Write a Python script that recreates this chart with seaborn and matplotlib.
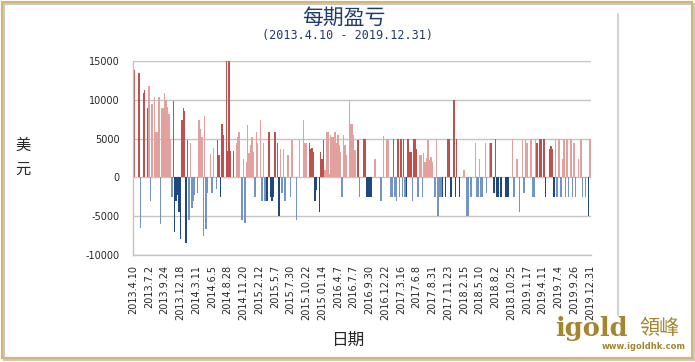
import pandas as pd
import seaborn as sns
import matplotlib.pyplot as plt
from matplotlib.patches import Rectangle
from matplotlib.lines import Line2D

# tick labels, one every 11 trade slots
tick_dates = ['2013.4.10', '2013.7.2', '2013.9.24', '2013.12.18', '2014.3.11', '2014.6.5',
              '2014.8.28', '2014.11.20', '2015.2.12', '2015.5.7', '2015.7.30', '2015.10.22',
              '2015.01.14', '2016.4.7', '2016.7.7', '2016.9.30', '2016.12.22', '2017.3.16',
              '2017.6.8', '2017.8.31', '2017.11.23', '2018.2.15', '2018.5.10', '2018.8.2',
              '2018.10.25', '2019.1.17', '2019.4.11', '2019.7.4', '2019.9.26', '2019.12.31']

# profit / loss per slot (USD), 0 = no trade
pnl = [7400, 13900, 0, 0, 13400, -6500, 0, 10900, 11300, 0,
       8900, 11800, -3000, 9400, 0, 10400, 5900, 5900, 10400, -6000,
       8900, 8900, 10900, 10000, 9100, 8200, 4800, -2500, 9900, -7000,
       -3000, -2300, -4500, -8000, 7400, 8900, 8500, -8500, 4800,
       -5500, 4400, -4000, -3100, -2300, 0, -2000, 7400, 6300, 5200,
       -7500, 7900, -6600, -2000, 0, 3000, -2000, 3800, 0, -1500,
       4800, 2900, -2500, 6900, 5500, 0, 15000, 3400, 15000, 3400,
       0, 3400, 0, 4400, 5200, 5900, 0, -5500, 2400, -5900,
       2000, 6800, 3100, 4200, 5200, 3300, -2500, 5900, 4400,
       0, 7400, -3000, 4400, -3000, -3000, -3000, 5900, -2500, -3000,
       -2500, 5900, 0, 4400, -5000, 3700, -2000, 3700, -3000, 0,
       2900, 0, -2500, 4800, 0, 0, -5500, 0, 4800, 0,
       0, 7400, 4400, 4400, 0, 4400, 3700, 3800, 3300, -3000,
       -1600, 0, -4400, 3300, 2400, 4800, 900, 5900, 5900,
       500, 5500, 5200, 5200, 5900, 4400, 5500, 4200, 3300, -2500,
       5500, 4200, 2900, 0, 10000, 6900, 6900, 5500, 3500, 0,
       4800, -2500, 0, 0, 5000, 5000, -2500, -2500, -2500, -2500,
       0, 0, 2400, 0, 0, 0, -3000, 0, 5300, 0,
       5000, 5000, 0, -2500, -2500, 5000, -2500, -3000, 5000, -2500,
       5000, -2500, 5000, -2500, -2500, 5000, 3300, 3300, -3000,
       5000, 5000, 3700, -2500, 2900, 2900, -2500, 3100, 2000, 2500,
       4800, 2200, 2600, 2000, 0, -2500, 5000, -5000, -2500, -2500,
       -2500, 0, -2500, 0, 5000, 5000, -2500, 0, 10000, -2500,
       5000, 0, -2500, 0, 0, 1000, 0, -5000, -5000, 0,
       -2500, 0, 0, 4400, -2500, -2500, 2400, -2500, -2500,
       0, 4400, -2000, 0, 4400, 4400, 0, -2000, 5000, -2500,
       -2500, 0, -2500, 0, 0, -2500, -2500, -2500, 0, 0,
       5000, -2500, 0, 2400, 0, -4400, 0, 5000, -2000, 5000,
       4400, 0, 0, 5000, -2500, -2500, 5000, 4400, 0, 5000,
       5000, 0, 5000, -2500, 0, 0, 3700, 4000, 3700,
       -2500, 5000, -2500, 5000, 5000, -2500, 2400, 5000, -2500, 5000,
       -2500, 0, 5000, -2500, 4400, -2500, 0, 2400, 0, 5000,
       -2500, 0, -2500, 0, -5000, 5000]

# bar shade per slot: R/r = dark/light gain, B/b = dark/light loss
kind = ("RR..Rb.RR." "Rrbr.rrrrb" "rrrrrrrbRB" "BBBBRRRBR"
        "brbbb.brrr" "brbb.rbr.b" "RRBRR.RRRR" ".R.rrr.brb" "rrrrrrbrr"
        ".rbrbBBRBB" "BR.RBrbrb." "r.br..b.r." ".rrr.RRRRB" "B.BRRRrrr"
        "rrrrrrrrrb" "rrr.rrrrr." "Rb..RRBBBB" "..r...b.r." "rr.bbRbbRb"
        "RbRbBRRRb" "RRRbrrbrrr" "rrrr.brbbb" "B.B.RRB.RB" "R.B..r.bb."
        "b..rbbrbb" ".rb.rR.BRB" "B.B..BBB.." "rb.r.b.rbr" "r..rbbrR.R"
        "R.RB..RRR" "Brbrrbrrbr" "b.rbrb.r.r" "b.b.Br")

assert len(pnl) == len(kind)

df = pd.DataFrame({'slot': range(len(pnl)), 'pnl': pnl, 'kind': list(kind)})
palette = {'R': '#C0504D', 'r': '#E2A09F', 'B': '#1F497D', 'b': '#7395C3', '.': '#FFFFFF'}

sns.set_style('white')
plt.rcParams['font.family'] = ['Noto Sans CJK SC', 'DejaVu Sans']

navy = '#1F3A6E'
gold = '#A5852F'

fig = plt.figure(figsize=(6.95, 3.62), dpi=100)
ax = fig.add_axes([132.5 / 695, 1 - 255 / 362, 458 / 695, 194 / 362])

sns.barplot(data=df, x='slot', y='pnl', hue='kind', palette=palette, dodge=False,
            width=1.0, saturation=1, linewidth=0, errorbar=None, legend=False, ax=ax)

ax.set_xlim(-0.5, len(pnl) - 0.5)
ax.set_ylim(-10000, 15000)
ax.set_yticks(range(-10000, 15001, 5000))
ax.set_xticks(range(0, len(pnl), 11))
ax.set_xticklabels(tick_dates, rotation=90, fontsize=7, family='DejaVu Sans')
ax.set_yticklabels([str(v) for v in range(-10000, 15001, 5000)], fontsize=7, family='DejaVu Sans')
ax.tick_params(axis='both', length=0)
ax.tick_params(axis='y', pad=9)
ax.tick_params(axis='x', pad=7)
ax.set_xlabel('')
ax.set_ylabel('')
ax.set_axisbelow(True)
ax.yaxis.grid(True, color='#C4C4C4', lw=1.0)
ax.xaxis.grid(False)
for side in ['top', 'right']:
    ax.spines[side].set_visible(False)
for side in ['left', 'bottom']:
    ax.spines[side].set_color('#C4C4C4')
    ax.spines[side].set_linewidth(1.0)

# titles and axis names
fig.text(343.5 / 695, 1 - 17.5 / 362, '每期盈亏', fontsize=15, color=navy, ha='center', va='center')
fig.text(347 / 695, 1 - 36 / 362, '(2013.4.10 - 2019.12.31)', fontsize=8.5, color=navy,
         ha='center', va='center', family='DejaVu Sans Mono')
fig.text(22.5 / 695, 1 - 145 / 362, '美', fontsize=11, ha='center', va='center')
fig.text(22.5 / 695, 1 - 169 / 362, '元', fontsize=11, ha='center', va='center')
fig.text(348 / 695, 1 - 340 / 362, '日期', fontsize=12, ha='center', va='center')

# frame, chart-area edge and logo
fig.add_artist(Line2D([618 / 695, 618 / 695], [1 - 14 / 362, 1 - 315 / 362], color='#D2D2D2', lw=1.5))
fig.add_artist(Rectangle((4 / 695, 1 - 360 / 362), 690 / 695, 356 / 362, fill=False,
                         edgecolor='#C8C8C8', lw=1.5))
fig.add_artist(Rectangle((2 / 695, 1 - 357.5 / 362), 690 / 695, 356 / 362, fill=False,
                         edgecolor='#D8B56E', lw=1.5))
fig.text(555 / 695, 1 - 336 / 362, 'igold', fontsize=18.5, weight='bold', color=gold,
         family='DejaVu Serif', ha='left', va='baseline')
fig.text(659 / 695, 1 - 328 / 362, '領峰', fontsize=14.5, color=gold, family='Noto Sans CJK TC',
         ha='center', va='center')
fig.text(686 / 695, 1 - 349 / 362, 'www.igoldhk.com', fontsize=6, weight='bold', color=gold,
         family='DejaVu Sans', ha='right', va='baseline')

fig.savefig('out.png', dpi=100)
